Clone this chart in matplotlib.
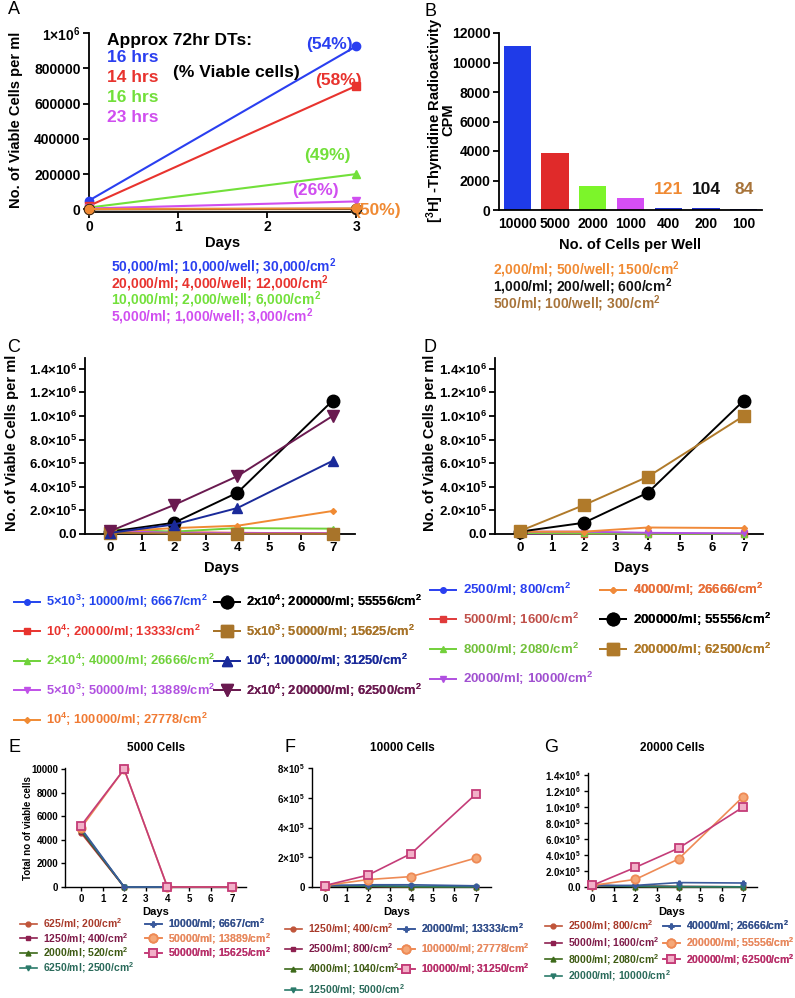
import matplotlib
matplotlib.use("Agg")
import matplotlib.pyplot as plt

plt.rcParams['font.family'] = ['Liberation Sans', 'DejaVu Sans']
plt.rcParams['font.weight'] = 'bold'
plt.rcParams['axes.labelweight'] = 'bold'
plt.rcParams['mathtext.fontset'] = 'custom'
plt.rcParams['mathtext.rm'] = 'Liberation Sans:bold'
plt.rcParams['mathtext.bf'] = 'Liberation Sans:bold'
plt.rcParams['mathtext.it'] = 'Liberation Sans:bold'
plt.rcParams['mathtext.default'] = 'bf'

W, H = 795, 998
fig = plt.figure(figsize=(W / 100, H / 100), dpi=100)

def ax_px(l, t, r, b):
    return fig.add_axes([l / W, 1 - b / H, (r - l) / W, (b - t) / H])

def ftext(x, y, s, **kw):
    return fig.text(x / W, 1 - y / H, s, **kw)

def style(ax, lw=1.3, tl=4, size=10):
    for s in ['top', 'right']:
        ax.spines[s].set_visible(False)
    for s in ['left', 'bottom']:
        ax.spines[s].set_linewidth(lw)
    ax.tick_params(width=lw, length=tl, labelsize=size, pad=2)
    for t in ax.get_xticklabels() + ax.get_yticklabels():
        t.set_fontweight('bold')

def legend_px(ax, handles, labels, colors, x, y, size, spacing, hl=2.0, tp=0.5):
    leg = ax.legend(handles, labels, loc='upper left',
                    bbox_to_anchor=(x / W, 1 - y / H), bbox_transform=fig.transFigure,
                    frameon=False, borderpad=0, borderaxespad=0,
                    handlelength=hl, handletextpad=tp, labelspacing=spacing,
                    prop={'size': size, 'weight': 'bold'})
    for t, c in zip(leg.get_texts(), colors):
        t.set_color(c)
    ax.add_artist(leg)
    return leg

# ---------------- Panel A data ----------------
a_days = [0, 3]
a_vals = [[50000, 925000], [20000, 700000], [10000, 200000], [5000, 45000],
          [500, 1500], [1000, 3000], [2000, 5000]]
a_colors = ['#2a3ff0', '#e8332e', '#72e03a', '#d04ef0', '#a8743a', '#111111', '#f08a33']
a_markers = ['o', 's', '^', 'v', 'o', 'o', 'o']
a_ms = [6, 5.5, 5.5, 5.5, 7.5, 7, 6]
a_dts = ['16 hrs', '14 hrs', '16 hrs', '23 hrs']
a_pct = ['(54%)', '(58%)', '(49%)', '(26%)', '(50%)']
a_seed = ['50,000/ml; 10,000/well; 30,000/cm$^2$',
          '20,000/ml; 4,000/well; 12,000/cm$^2$',
          '10,000/ml; 2,000/well; 6,000/cm$^2$',
          '5,000/ml; 1,000/well; 3,000/cm$^2$']
a_yticks = [0, 200000, 400000, 600000, 800000, 1000000]
a_yticklabels = ['0', '200000', '400000', '600000', '800000', '1×10$^6$']

# ---------------- Panel B data ----------------
b_cats = ['10000', '5000', '2000', '1000', '400', '200', '100']
b_vals = [11100, 3850, 1650, 800, 121, 104, 84]
b_colors = ['#1f3be8', '#e02a2a', '#7cf52a', '#d64ef5', '#2233cc', '#2233cc', '#2233cc']
b_annot = ['121', '104', '84']
b_annot_colors = ['#f08a33', '#111111', '#a8743a']
b_seed = ['2,000/ml; 500/well; 1500/cm$^2$',
          '1,000/ml; 200/well; 600/cm$^2$',
          '500/ml; 100/well; 300/cm$^2$']

# ---------------- Panel C data ----------------
days = [0, 2, 4, 7]
c_labels = ['5×10$^3$; 10000/ml; 6667/cm$^2$',
            '10$^4$; 20000/ml; 13333/cm$^2$',
            '2×10$^4$; 40000/ml; 26666/cm$^2$',
            '5×10$^3$; 50000/ml; 13889/cm$^2$',
            '10$^4$; 100000/ml; 27778/cm$^2$',
            '2x10$^4$; 200000/ml; 55556/cm$^2$',
            '5x10$^3$; 50000/ml; 15625/cm$^2$',
            '10$^4$; 100000/ml; 31250/cm$^2$',
            '2x10$^4$; 200000/ml; 62500/cm$^2$']
c_vals = [[10000, 8000, 5000, 2000],
          [20000, 15000, 10000, 5000],
          [40000, 20000, 50000, 45000],
          [25000, 10000, 8000, 5000],
          [20000, 50000, 70000, 195000],
          [20000, 95000, 350000, 1130000],
          [10000, 3000, 2000, 1000],
          [10000, 80000, 220000, 620000],
          [25000, 245000, 490000, 1000000]]
c_colors = ['#2244ee', '#e8332e', '#6fd23a', '#c050e8', '#f08a33',
            '#000000', '#a8742a', '#1a2a9a', '#6a1a50']
c_text_colors = ['#2244ee', '#e8332e', '#6fd23a', '#b050e0', '#f07a33',
                 '#000000', '#a8742a', '#1a2a9a', '#6a1a50']
c_markers = ['o', 's', '^', 'v', 'D', 'o', 's', '^', 'v']
c_ms = [4, 4, 4, 4, 3, 9, 9, 7, 8]

big_ticks = [0, 200000, 400000, 600000, 800000, 1000000, 1200000, 1400000]
big_ticklabels = ['0.0', '2.0×10$^5$', '4.0×10$^5$', '6.0×10$^5$', '8.0×10$^5$',
                  '1.0×10$^6$', '1.2×10$^6$', '1.4×10$^6$']

# ---------------- Panel D data ----------------
d_labels = ['2500/ml; 800/cm$^2$', '5000/ml; 1600/cm$^2$', '8000/ml; 2080/cm$^2$',
            '20000/ml; 10000/cm$^2$', '40000/ml; 26666/cm$^2$',
            '200000/ml; 55556/cm$^2$', '200000/ml; 62500/cm$^2$']
d_vals = [[3000, 2000, 1000, 500],
          [5000, 3000, 2000, 1000],
          [8000, 5000, 2000, 1000],
          [20000, 20000, 10000, 5000],
          [20000, 20000, 55000, 50000],
          [20000, 95000, 350000, 1130000],
          [25000, 245000, 485000, 1000000]]
d_colors = ['#2a3ff0', '#e03a3a', '#72d03a', '#b050e0', '#f08a3a', '#000000', '#b07a2a']
d_text_colors = ['#2a3ff0', '#c0504a', '#72c03a', '#a050d0', '#e8703a', '#000000', '#b07a2a']
d_markers = ['o', 's', '^', 'v', 'D', 'o', 's']
d_ms = [4, 4, 4, 4, 3, 9, 9]

# ---------------- Panels E/F/G data ----------------
efg_colors = ['#c0553a', '#8e2050', '#3d6a1a', '#2a7a6a', '#3a5a9c', '#ee8a55', '#c43c78']
efg_text_colors = ['#a83a2a', '#7e1a48', '#3d5a12', '#2a6a5a', '#34508c', '#e88a60', '#b8306a']
efg_markers = ['o', 's', '^', 'v', 'P', 'o', 's']

e_labels = ['625/ml; 200/cm$^2$', '1250/ml; 400/cm$^2$', '2000/ml; 520/cm$^2$',
            '6250/ml; 2500/cm$^2$', '10000/ml; 6667/cm$^2$',
            '50000/ml; 13889/cm$^2$', '50000/ml; 15625/cm$^2$']
e_vals = [[4600, 0, 0, 0], [4700, 0, 0, 0], [4800, 0, 0, 0], [4900, 0, 0, 0],
          [5000, 0, 0, 0], [5000, 10000, 0, 0], [5200, 10000, 0, 0]]
e_yticks = [0, 2000, 4000, 6000, 8000, 10000]

f_labels = ['1250/ml; 400/cm$^2$', '2500/ml; 800/cm$^2$', '4000/ml; 1040/cm$^2$',
            '12500/ml; 5000/cm$^2$', '20000/ml; 13333/cm$^2$',
            '100000/ml; 27778/cm$^2$', '100000/ml; 31250/cm$^2$']
f_vals = [[10000, 5000, 2000, 1000], [10000, 5000, 2000, 1000], [10000, 5000, 0, 0],
          [10000, 8000, 5000, 2000], [10000, 15000, 15000, 8000],
          [10000, 50000, 70000, 195000], [10000, 80000, 225000, 625000]]
f_yticks = [0, 200000, 400000, 600000, 800000]
f_yticklabels = ['0', '2×10$^5$', '4×10$^5$', '6×10$^5$', '8×10$^5$']

g_labels = ['2500/ml; 800/cm$^2$', '5000/ml; 1600/cm$^2$', '8000/ml; 2080/cm$^2$',
            '20000/ml; 10000/cm$^2$', '40000/ml; 26666/cm$^2$',
            '200000/ml; 55556/cm$^2$', '200000/ml; 62500/cm$^2$']
g_vals = [[20000, 10000, 5000, 2000], [20000, 10000, 5000, 2000], [20000, 5000, 2000, 1000],
          [20000, 10000, 5000, 2000], [20000, 20000, 55000, 50000],
          [20000, 95000, 350000, 1130000], [20000, 245000, 485000, 1000000]]

# ================= Panel A =================
axA = ax_px(89, 33, 358, 212)
for v, c, m, ms in zip(a_vals, a_colors, a_markers, a_ms):
    axA.plot(a_days, v, color=c, marker=m, ms=ms, lw=1.5, clip_on=False, zorder=3)
axA.set_xlim(0, 3.02)
axA.set_ylim(-15000, 1000000)
axA.set_xticks([0, 1, 2, 3])
axA.set_yticks(a_yticks)
axA.set_yticklabels(a_yticklabels)
style(axA, size=10)
ftext(16, 120, 'No. of Viable Cells per ml', rotation=90, ha='center', va='center', fontsize=10.5)
ftext(223, 243, 'Days', ha='center', va='center', fontsize=10.5)
ftext(107, 40, 'Approx 72hr DTs:', ha='left', va='center', fontsize=12.5)
for i, (s, c) in enumerate(zip(a_dts, a_colors[:4])):
    ftext(107, 57 + 20 * i, s, ha='left', va='center', fontsize=12.5, color=c)
ftext(173, 72, '(% Viable cells)', ha='left', va='center', fontsize=12.5)
pct_pos = [(329, 44), (338, 80), (327, 156), (315, 191), (377, 211)]
pct_cols = ['#2a3ff0', '#e8332e', '#72e03a', '#d04ef0', '#f08a33']
for s, (x, y), c in zip(a_pct, pct_pos, pct_cols):
    ftext(x, y, s, ha='center', va='center', fontsize=12.5, color=c)
for i, (s, c) in enumerate(zip(a_seed, a_colors[:4])):
    ftext(111, 267 + 16.5 * i, s, ha='left', va='center', fontsize=10, color=c)

# ================= Panel B =================
axB = ax_px(499, 33, 762, 210)
xs = list(range(len(b_cats)))
axB.bar(xs, b_vals, width=0.72, color=b_colors)
axB.set_xlim(-0.48, 6.48)
axB.set_ylim(0, 12000)
axB.set_xticks(xs)
axB.set_xticklabels(b_cats)
axB.set_yticks(range(0, 12001, 2000))
style(axB, size=10)
axB.tick_params(axis='x', length=0, pad=5)
for i, (s, c) in enumerate(zip(b_annot, b_annot_colors)):
    axB.text(4 + i, 1400, s, ha='center', va='center', fontsize=12.5, color=c)
ftext(435, 120, '[$^3$H] -Thymidine Radioactivity', rotation=90, ha='center', va='center',
      fontsize=10.5)
ftext(448, 120, 'CPM', rotation=90, ha='center', va='center', fontsize=10.5)
ftext(630, 245, 'No. of Cells per Well', ha='center', va='center', fontsize=10.5)
for i, (s, c) in enumerate(zip(b_seed, b_annot_colors)):
    ftext(493, 270 + 17 * i, s, ha='left', va='center', fontsize=10, color=c)

# ================= Panel C =================
axC = ax_px(85, 358, 355, 534)
hC = []
for v, c, m, ms in zip(c_vals, c_colors, c_markers, c_ms):
    ln, = axC.plot(days, v, color=c, marker=m, ms=ms, lw=1.4, clip_on=False, zorder=3)
    hC.append(ln)
axC.set_xlim(-0.8, 7.7)
axC.set_ylim(0, 1490000)
axC.set_xticks(range(8))
axC.set_yticks(big_ticks)
axC.set_yticklabels(big_ticklabels)
style(axC, size=9.5)
ftext(12, 443, 'No. of Viable Cells per ml', rotation=90, ha='center', va='center', fontsize=10.5)
ftext(222, 568, 'Days', ha='center', va='center', fontsize=10.5)
legend_px(axC, hC[:5], c_labels[:5], c_text_colors[:5], 14, 593, 9.3, 0.95)
legend_px(axC, hC[5:], c_labels[5:], c_text_colors[5:], 214, 593, 9.3, 0.95)

# ================= Panel D =================
axD = ax_px(495, 358, 763, 534)
hD = []
for v, c, m, ms in zip(d_vals, d_colors, d_markers, d_ms):
    ln, = axD.plot(days, v, color=c, marker=m, ms=ms, lw=1.4, clip_on=False, zorder=3)
    hD.append(ln)
axD.set_xlim(-0.78, 7.6)
axD.set_ylim(0, 1490000)
axD.set_xticks(range(8))
axD.set_yticks(big_ticks)
axD.set_yticklabels(big_ticklabels)
style(axD, size=9.5)
ftext(430, 443, 'No. of Viable Cells per ml', rotation=90, ha='center', va='center', fontsize=10.5)
ftext(632, 568, 'Days', ha='center', va='center', fontsize=10.5)
legend_px(axD, hD[:4], d_labels[:4], d_text_colors[:4], 430, 581, 9.5, 0.95)
legend_px(axD, hD[4:], d_labels[4:], d_text_colors[4:], 600, 581, 9.5, 0.95)

# ================= Panels E/F/G =================
def small_panel(rect, vals, labels, title, title_x, xlim, ylim, yticks, yticklabels,
                days_x, leg1, leg2):
    ax = ax_px(*rect)
    hs = []
    for i, (v, c, m) in enumerate(zip(vals, efg_colors, efg_markers)):
        if i >= 5:
            ln, = ax.plot(days, v, color=c, marker=m, ms=6, mfc='#f2b0c8' if i == 6 else '#f5a878',
                          mec=c, mew=1.3, lw=1.2, clip_on=False, zorder=3)
        else:
            ln, = ax.plot(days, v, color=c, marker=m, ms=3.5, lw=1.2, clip_on=False, zorder=3)
        hs.append(ln)
    ax.set_xlim(*xlim)
    ax.set_ylim(*ylim)
    ax.set_xticks(range(8))
    ax.set_yticks(yticks)
    if yticklabels is not None:
        ax.set_yticklabels(yticklabels)
    style(ax, lw=1.0, tl=3, size=7)
    ftext(title_x, 748, title, ha='center', va='center', fontsize=8.5)
    ftext(days_x, 912, 'Days', ha='center', va='center', fontsize=8)
    legend_px(ax, hs[:4], labels[:4], efg_text_colors[:4], leg1[0], leg1[1], 7.5, leg1[2], hl=1.6, tp=0.6)
    legend_px(ax, hs[4:], labels[4:], efg_text_colors[4:], leg2[0], leg2[1], 7.5, leg2[2], hl=1.6, tp=0.6)
    return ax

axE = small_panel((65, 768, 246, 887), e_vals, e_labels, '5000 Cells', 156,
                  (-0.74, 7.64), (0, 10100), e_yticks, None, 156,
                  (20, 916, 0.0), (145, 916, 0.0))
ftext(28, 828, 'Total no of viable cells', rotation=90, ha='center', va='center', fontsize=7)

axF = small_panel((312, 768, 491, 887), f_vals, f_labels, '10000 Cells', 402,
                  (-0.6, 7.7), (0, 800000), f_yticks, f_yticklabels, 397,
                  (285, 921, 0.53), (398, 921, 0.53))

axG = small_panel((588, 773, 757, 887), g_vals, g_labels, '20000 Cells', 672,
                  (-0.2, 7.64), (0, 1425000), big_ticks, big_ticklabels, 672,
                  (545, 918, 0.2), (663, 918, 0.2))

# Panel letters
for s, x, y in [('A', 14, 10), ('B', 430, 12), ('C', 14, 348), ('D', 430, 348),
                ('E', 14, 747), ('F', 290, 747), ('G', 551, 747)]:
    ftext(x, y, s, ha='center', va='center', fontsize=13, fontweight='normal')

fig.savefig('out.png', dpi=100)
